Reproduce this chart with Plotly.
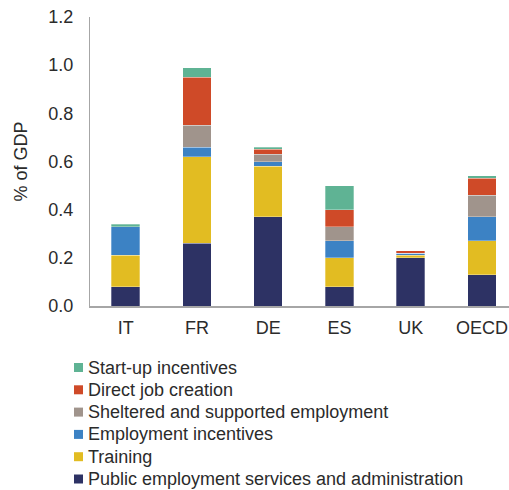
import plotly.graph_objects as go

countries = ["IT", "FR", "DE", "ES", "UK", "OECD"]
series_names = [
    "Public employment services and administration",
    "Training",
    "Employment incentives",
    "Sheltered and supported employment",
    "Direct job creation",
    "Start-up incentives",
]
pes = [0.08, 0.26, 0.37, 0.08, 0.20, 0.13]
training = [0.13, 0.36, 0.21, 0.12, 0.01, 0.14]
emp_incentives = [0.12, 0.04, 0.02, 0.07, 0.01, 0.10]
sheltered = [0.00, 0.09, 0.03, 0.06, 0.00, 0.09]
direct_jobs = [0.00, 0.20, 0.02, 0.07, 0.01, 0.07]
startup = [0.01, 0.04, 0.01, 0.10, 0.00, 0.01]
y_ticks = [0.0, 0.2, 0.4, 0.6, 0.8, 1.0, 1.2]

values = [pes, training, emp_incentives, sheltered, direct_jobs, startup]
colors = ["#2D3264", "#E2BC22", "#3C82C4", "#A0948C", "#CF4A28", "#5FB394"]

FONT = "Liberation Sans, Arial, sans-serif"
TXT = "#2b2b2b"
FS = 18

W, H = 509, 490
ML, MR, MT, MB = 90, 0, 17, 184
PW, PH = W - ML - MR, H - MT - MB

fig = go.Figure()
for name, vals, col in zip(series_names, values, colors):
    fig.add_trace(go.Bar(
        x=countries, y=vals, name=name, showlegend=False,
        marker=dict(color=col, line=dict(color="rgba(255,255,255,0.5)", width=0.6)),
    ))

# Legend drawn below the plot (top row = last series), Excel-like spacing
def px_to_paper_x(px):
    return (px - ML) / PW

def px_to_paper_y(py):
    return (H - MB - py) / PH

row0, row_step = 367.5, 22.3
for i, (name, col) in enumerate(zip(reversed(series_names), reversed(colors))):
    cy = row0 + i * row_step
    fig.add_shape(
        type="rect", xref="paper", yref="paper",
        x0=px_to_paper_x(74), x1=px_to_paper_x(83),
        y0=px_to_paper_y(cy + 4.5), y1=px_to_paper_y(cy - 4.5),
        fillcolor=col, line=dict(width=0),
    )
    fig.add_annotation(
        xref="paper", yref="paper",
        x=px_to_paper_x(86), y=px_to_paper_y(cy),
        xanchor="left", yanchor="middle",
        text=name, showarrow=False,
        font=dict(size=FS, color=TXT, family=FONT),
    )

fig.update_layout(
    barmode="stack",
    bargap=0.6,
    width=W, height=H,
    margin=dict(l=ML, r=MR, t=MT, b=MB, autoexpand=False),
    paper_bgcolor="white", plot_bgcolor="white",
    font=dict(family=FONT, size=FS, color=TXT),
    showlegend=False,
)
fig.update_xaxes(
    range=[-0.5, 5.38],
    showline=True, linecolor="#A6A6A6", linewidth=1.5,
    showgrid=False, ticks="",
    ticklabelstandoff=5,
    tickfont=dict(size=FS, color=TXT),
)
fig.update_yaxes(
    range=[0, 1.2],
    tickvals=y_ticks,
    ticktext=[f"{v:.1f}" for v in y_ticks],
    showline=True, linecolor="#A6A6A6", linewidth=1,
    showgrid=False, ticks="", zeroline=False,
    ticklabelstandoff=12,
    tickfont=dict(size=FS, color=TXT),
    title=dict(text="% of GDP", font=dict(size=FS, color=TXT), standoff=16),
)

fig.write_html(
    "out.html",
    config={"displayModeBar": False},
    post_script="document.body.style.margin='0';",
)
